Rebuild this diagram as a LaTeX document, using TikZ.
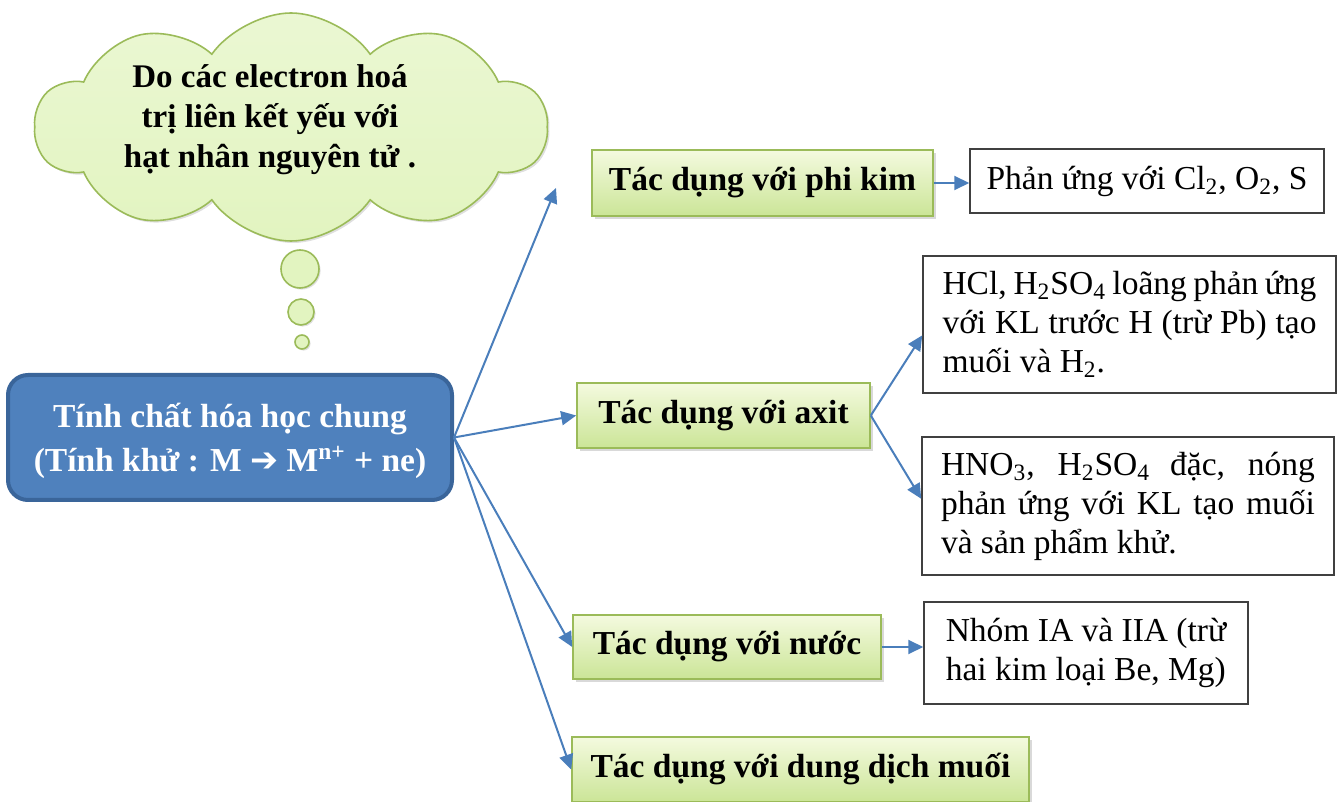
\documentclass[tikz,border=0pt]{standalone}
\usepackage{fontspec}
\setmainfont{Liberation Serif}
\newfontfamily\arrowfont{DejaVu Sans}
\usetikzlibrary{shapes.geometric, shapes.symbols, arrows.meta, positioning, shadows}

\definecolor{arrowblue}{HTML}{4A7EBB}
\definecolor{mainfill}{HTML}{4F81BD}
\definecolor{mainline}{HTML}{3A659A}
\definecolor{greenline}{HTML}{9BBB59}
\definecolor{greentop}{HTML}{F4FADF}
\definecolor{greenbot}{HTML}{CBE597}
\definecolor{cloudfill}{HTML}{E2F4C0}
\definecolor{boxline}{HTML}{404040}

\begin{document}
\begin{tikzpicture}[
        x=0.5pt, y=-0.5pt,
        greenbox/.style={rectangle, draw=greenline, line width=0.8pt, top color=greentop, bottom color=greenbot,
            drop shadow={shadow xshift=1.3pt, shadow yshift=-1.3pt, opacity=0.3},
            font=\fontsize{16.75}{19.5}\selectfont\bfseries, align=center},
        whitebox/.style={rectangle, draw=boxline, line width=0.75pt, fill=white,
            font=\fontsize{16.75}{19.5}\selectfont},
        mainbox/.style={rectangle, rounded corners=10pt, draw=mainline, line width=2pt, fill=mainfill,
            text=white, font=\fontsize{16.75}{22}\selectfont\bfseries, align=center},
        thought/.style={cloud, cloud puffs=10, cloud puff arc=110, cloud ignores aspect, draw=greenline,
            line width=0.8pt, top color=cloudfill!70!white, bottom color=cloudfill,
            drop shadow={shadow xshift=1pt, shadow yshift=-1pt, opacity=0.25}, inner sep=0pt},
        bubble/.style={circle, draw=greenline, line width=0.8pt, fill=cloudfill, inner sep=0pt,
            drop shadow={shadow xshift=0.8pt, shadow yshift=-0.8pt, opacity=0.25}},
        arrow/.style={-{Triangle[length=7.5pt, width=7pt]}, line width=1pt, draw=arrowblue}
    ]
        \useasboundingbox (0,0) rectangle (1341,802);

        % Thought cloud
        \node[thought, minimum width=256pt, minimum height=114pt] (cloud) at (291,127) {};
        \node[font=\fontsize{16.5}{20}\selectfont\bfseries, align=center] (reason) at (270,120)
            {Do các electron hoá\\trị liên kết yếu với\\hạt nhân nguyên tử .};
        \node[bubble, minimum size=19pt] (b1) at (300,269) {};
        \node[bubble, minimum size=13pt] (b2) at (301,312) {};
        \node[bubble, minimum size=7pt] (b3) at (302,342) {};

        % Main node
        \node[mainbox, minimum width=222pt, minimum height=62.5pt, text depth=0pt] (main) at (230,437.5)
            {Tính chất hóa học chung\\(Tính khử : M {\arrowfont\bfseries ➔} M\textsuperscript{n+} + ne)};

        % Reactions
        \node[greenbox, minimum width=170.5pt, minimum height=33pt] (phikim) at (762.5,183) {Tác dụng với phi kim};
        \node[greenbox, minimum width=146.5pt, minimum height=32.5pt] (axit) at (723.5,415.5) {Tác dụng với axit};
        \node[greenbox, minimum width=154pt, minimum height=32pt] (nuoc) at (727,647) {Tác dụng với nước};
        \node[greenbox, minimum width=228.5pt, minimum height=32.5pt] (muoi) at (800.5,769.5) {Tác dụng với dung dịch muối};
        \coordinate (phitip) at (556,188);

        % Details
        \node[whitebox, minimum width=177pt, minimum height=32pt] (phanung) at (1147,181)
            {Phản ứng với Cl\textsubscript{2}, O\textsubscript{2}, S};
        \node[whitebox, minimum width=206.5pt, minimum height=68.5pt, text width=187pt, align=justify] (hcl) at (1129.5,324.5)
            {HCl, H\textsubscript{2}SO\textsubscript{4} loãng phản ứng\linebreak với KL trước H (trừ Pb) tạo\linebreak muối và H\textsubscript{2}.};
        \node[whitebox, minimum width=206pt, minimum height=69pt, text width=187pt, align=justify] (hno) at (1128,506)
            {HNO\textsubscript{3}, H\textsubscript{2}SO\textsubscript{4} đặc, nóng\linebreak phản ứng với KL tạo muối\linebreak và sản phẩm khử.};
        \node[whitebox, minimum width=162pt, minimum height=51pt, align=left] (nhom) at (1086,653)
            {Nhóm IA và IIA (trừ\\hai kim loại Be, Mg)};

        % Arrows
        \draw[arrow] (main.east) -- (phitip);
        \draw[arrow] (main.east) -- (axit.west);
        \draw[arrow] (main.east) -- (nuoc.west);
        \draw[arrow] (main.east) -- (muoi.west);
        \draw[arrow] (phikim.east) -- (phikim.east -| phanung.west);
        \draw[arrow] (axit.east) -- (hcl.183);
        \draw[arrow] (axit.east) -- (hno.178);
        \draw[arrow] (nuoc.east) -- (nuoc.east -| nhom.west);
    \end{tikzpicture}
\end{document}
